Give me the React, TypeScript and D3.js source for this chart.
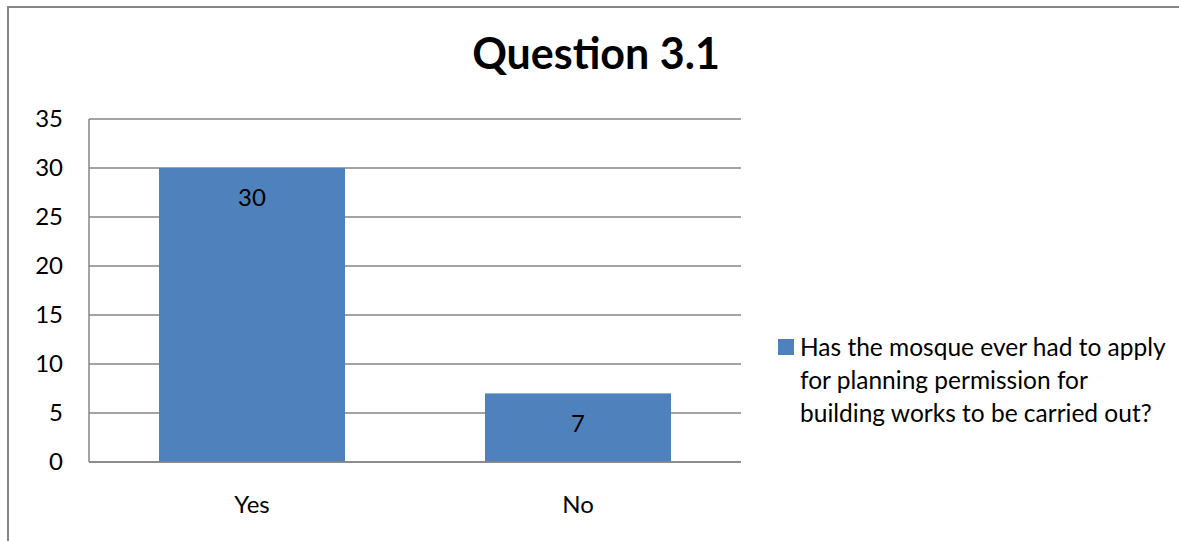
import React from "react";
import * as d3 from "d3";

const categories = ["Yes", "No"];
const values = [30, 7];
const yTicks = [0, 5, 10, 15, 20, 25, 30, 35];
const title = "Question 3.1";
const legendLines = [
  "Has the mosque ever had to apply",
  "for planning permission for",
  "building works to be carried out?",
];

const W = 1179;
const H = 541;
const FONT = "Lato, Carlito, Calibri, 'Open Sans', sans-serif";

export default function App() {
  const left = 89, right = 741, top = 119, bottom = 462;
  const x = d3.scaleBand<string>().domain(categories).range([left, right]).paddingInner(0.4294).paddingOuter(0.2147);
  const y = d3.scaleLinear().domain([0, 35]).range([bottom, top]);
  const gray = "#868686";
  return (
    <svg width={W} height={H} style={{ position: "absolute", left: 0, top: 0 }} fontFamily={FONT}>
      <rect x={0} y={0} width={W} height={H} fill="#fff" />
      <rect x={8} y={7} width={W + 20} height={H + 20} fill="none" stroke={gray} strokeWidth={2} />
      <text x={596} y={54} dy="0.35em" textAnchor="middle" fontSize={43} fontWeight="bold" fill="#000">{title}</text>
      {yTicks.map((t) => (
        <g key={t}>
          <line x1={left} x2={right} y1={y(t)} y2={y(t)} stroke={gray} strokeWidth={1.5} />
          <text x={63} y={y(t)} dy="0.35em" textAnchor="end" fontSize={24} fill="#000">{t}</text>
        </g>
      ))}
      {categories.map((c, i) => (
        <g key={c}>
          <rect x={x(c)!} y={y(values[i])} width={x.bandwidth()} height={bottom - y(values[i])} fill="#4F81BD" />
          <text x={x(c)! + x.bandwidth() / 2} y={y(values[i]) + 30} dy="0.35em" textAnchor="middle" fontSize={24} fill="#000">{values[i]}</text>
          <text x={x(c)! + x.bandwidth() / 2} y={505} dy="0.35em" textAnchor="middle" fontSize={24} fill="#000">{c}</text>
        </g>
      ))}
      <line x1={left} x2={left} y1={top} y2={bottom} stroke={gray} strokeWidth={1.5} />
      <line x1={left} x2={right} y1={bottom} y2={bottom} stroke={gray} strokeWidth={1.5} />
      <rect x={778} y={339} width={16} height={16} fill="#4F81BD" />
      {legendLines.map((l, i) => (
        <text key={i} x={800} y={347 + i * 33} dy="0.35em" fontSize={24.5} fill="#000">{l}</text>
      ))}
    </svg>
  );
}
